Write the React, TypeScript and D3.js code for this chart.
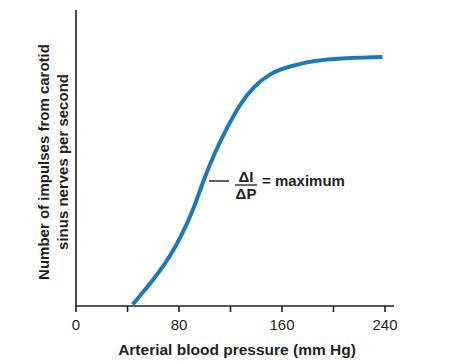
import * as d3 from "d3";

const pressure = [44, 60, 73, 83, 91, 100, 108, 117, 127, 137.5, 151, 164, 179, 197, 238];
const impulses = [0.5, 8.8, 16.6, 24.7, 32.4, 43.6, 52, 60, 68, 74, 78.7, 80.7, 82.4, 83.6, 84.1];
const xTicks = [0, 40, 80, 120, 160, 200, 240];
const xTickLabels = ["0", "", "80", "", "160", "", "240"];

export default function App() {
  const width = 454;
  const height = 363;
  const font = "'Liberation Sans', Arial, sans-serif";
  const ink = "#231f20";

  const x = d3.scaleLinear().domain([0, 240]).range([76, 385]);
  const y = d3.scaleLinear().domain([0, 100]).range([306, 10]);

  const pts: [number, number][] = pressure.map((p, i) => [p, impulses[i]]);
  const line = d3
    .line<[number, number]>()
    .x((d) => x(d[0]))
    .y((d) => y(d[1]))
    .curve(d3.curveBasis);

  return (
    <svg
      width={width}
      height={height}
      style={{ position: "absolute", left: 0, top: 0 }}
      fontFamily={font}
    >
      <rect width={width} height={height} fill="#fff" />
      {/* axes */}
      <line x1={x(0)} x2={x(0)} y1={y(100)} y2={y(0)} stroke={ink} strokeWidth={1.6} />
      <line x1={x(0) - 0.8} x2={394} y1={y(0)} y2={y(0)} stroke={ink} strokeWidth={1.6} />
      {xTicks.map((t, i) => (
        <g key={t}>
          <line x1={x(t)} x2={x(t)} y1={y(0)} y2={y(0) + 6} stroke={ink} strokeWidth={1.6} />
          <text x={x(t)} y={330} textAnchor="middle" fontSize={15} fill={ink}>
            {xTickLabels[i]}
          </text>
        </g>
      ))}
      <text x={237} y={355} textAnchor="middle" fontSize={15.5} fontWeight="bold" fill={ink}>
        Arterial blood pressure (mm Hg)
      </text>
      <g transform="translate(49,162) rotate(-90)">
        <text x={0} y={0} textAnchor="middle" fontSize={15} fontWeight="bold" fill={ink}>
          Number of impulses from carotid
        </text>
        <text x={0} y={19} textAnchor="middle" fontSize={15} fontWeight="bold" fill={ink}>
          sinus nerves per second
        </text>
      </g>
      {/* curve */}
      <path d={line(pts) ?? ""} fill="none" stroke="#1b78bd" strokeWidth={4} strokeLinecap="butt" />
      {/* annotation */}
      <line x1={209} x2={229} y1={181} y2={181} stroke={ink} strokeWidth={1.4} />
      <text x={246} y={182} textAnchor="middle" fontSize={15} fontWeight="bold" fill={ink}>
        ΔI
      </text>
      <line x1={235} x2={257} y1={185} y2={185} stroke={ink} strokeWidth={1.3} />
      <text x={246} y={199} textAnchor="middle" fontSize={15} fontWeight="bold" fill={ink}>
        ΔP
      </text>
      <text x={262} y={186} fontSize={15} fontWeight="bold" fill={ink}>
        = maximum
      </text>
    </svg>
  );
}
